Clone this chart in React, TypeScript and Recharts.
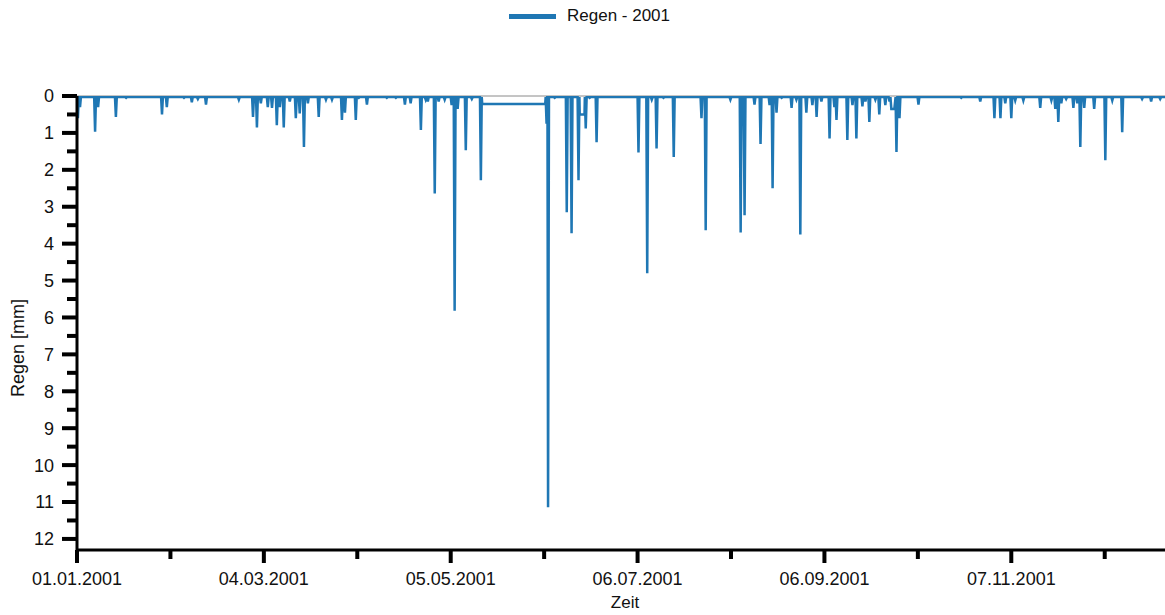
import React from "react";
import {
  LineChart,
  Line,
  XAxis,
  YAxis,
  Legend,
  ReferenceLine,
  Label,
} from "recharts";

// rain events: [day of year (0 = 01.01.2001), rain in mm]
const winterEvents: [number, number][] = [
  [0.3, 0.6], [1.0, 0.3], [6.0, 0.97], [7.0, 0.3], [12.9, 0.57], [16.3, 0.05],
  [28.2, 0.5], [29.8, 0.3], [35.5, 0.05], [38.1, 0.17], [40.1, 0.08], [42.8, 0.23],
  [53.7, 0.1], [58.4, 0.57],
];

const springEvents: [number, number][] = [
  [59.7, 0.85], [61.0, 0.2], [63.3, 0.3], [64.7, 0.32], [66.3, 0.79], [67.3, 0.3],
  [68.6, 0.85], [70.6, 0.15], [72.6, 0.6], [73.9, 0.47], [75.3, 1.38], [76.6, 0.2],
  [80.2, 0.57], [82.6, 0.1], [84.6, 0.1], [87.9, 0.65], [88.9, 0.45], [92.5, 0.65],
  [93.5, 0.05], [96.2, 0.23], [102.8, 0.05], [105.8, 0.05], [108.8, 0.23], [110.7, 0.2],
  [114.1, 0.92], [115.7, 0.1], [116.4, 0.15], [118.7, 2.64], [120.0, 0.15], [122.0, 0.1],
  [124.3, 0.25], [125.3, 5.82], [126.3, 0.35], [129.0, 1.47], [131.0, 0.08], [134.0, 2.28],
];

const summerEvents: [number, number][] = [
  [155.8, 0.75], [156.3, 11.14], [158.5, 0.05], [162.5, 3.15], [164.1, 3.72], [166.4, 2.28],
  [168.8, 0.88], [170.1, 0.05], [172.4, 1.25], [186.3, 1.53], [189.2, 4.8], [190.7, 0.1],
  [192.3, 1.42], [194.6, 0.05], [198.0, 1.65], [207.2, 0.6], [208.6, 3.64], [216.8, 0.1],
  [220.2, 3.7], [221.5, 3.23], [224.8, 0.23], [226.8, 1.3], [229.8, 0.25], [230.8, 2.5],
  [232.1, 0.45], [233.8, 0.05], [237.1, 0.32], [238.7, 0.1], [240.0, 3.75],
];

const autumnEvents: [number, number][] = [
  [242.0, 0.45], [244.0, 0.25], [245.4, 0.57], [247.0, 0.15], [249.7, 1.15], [251.3, 0.3],
  [252.0, 0.65], [255.6, 1.19], [257.3, 0.25], [258.6, 1.15], [260.6, 0.28], [261.6, 0.15],
  [262.9, 0.7], [264.9, 0.1], [266.2, 0.5], [268.2, 0.25], [269.6, 0.15], [271.9, 1.52],
  [272.9, 0.6], [279.2, 0.23], [293.4, 0.05], [299.7, 0.15], [304.4, 0.6], [306.4, 0.6],
  [308.0, 0.2], [310.0, 0.6], [311.3, 0.12], [314.0, 0.12], [319.6, 0.32], [323.3, 0.12],
  [324.6, 0.35], [325.6, 0.7], [326.6, 0.2], [328.2, 0.08], [330.6, 0.32], [331.9, 0.2],
  [332.9, 1.38], [334.2, 0.32], [337.5, 0.35], [341.2, 1.74], [343.5, 0.12], [346.8, 0.98],
  [353.4, 0.08], [356.4, 0.15], [359.4, 0.08],
];

// flat stretches (gaps in the record): [from day, to day, mm]
const plateaus: [number, number, number][] = [
  [134.45, 155.35, 0.22],
  [166.8, 168.4, 0.5],
  [270.2, 271.2, 0.35],
];

const xTicks = [0, 31, 62, 93, 124, 155, 186, 217, 248, 279, 310, 341];
const yTicks = [0, 0.5, 1, 1.5, 2, 2.5, 3, 3.5, 4, 4.5, 5, 5.5, 6, 6.5, 7, 7.5, 8, 8.5, 9, 9.5, 10, 10.5, 11, 11.5, 12];

const BLUE = "#1f77b4";
const FONT = '"Liberation Sans", Arial, sans-serif';
const TEXT = "#111";
const BASE = 0.03;
const HALF = 0.3;

function buildSeries() {
  const pts: { t: number; v: number }[] = [{ t: 0, v: BASE }, { t: 361, v: BASE }];
  [...winterEvents, ...springEvents, ...summerEvents, ...autumnEvents].forEach(([d, mm]) => {
    pts.push({ t: d - HALF, v: BASE }, { t: d, v: mm }, { t: d + HALF, v: BASE });
  });
  plateaus.forEach(([a, b, lvl]) => {
    pts.push({ t: a, v: lvl }, { t: b, v: lvl });
  });
  return pts.sort((p, q) => p.t - q.t);
}

const series = buildSeries();

function dayLabel(day: number) {
  const d = new Date(2001, 0, 1 + day);
  const p = (n: number) => String(n).padStart(2, "0");
  return `${p(d.getDate())}.${p(d.getMonth() + 1)}.${d.getFullYear()}`;
}

const XTick = (props: any) => {
  const { x, y, index, payload } = props;
  const major = index % 2 === 0;
  return (
    <g>
      <line x1={x} x2={x} y1={y} y2={y + (major ? 13 : 9)} stroke="#000" strokeWidth={4} />
      {major && (
        <text x={x} y={y + 35} textAnchor="middle" fontSize={18} fontFamily={FONT} fill={TEXT}>
          {dayLabel(payload.value)}
        </text>
      )}
    </g>
  );
};

const YTick = (props: any) => {
  const { x, y, payload } = props;
  const major = Number.isInteger(payload.value);
  return (
    <g>
      <line x1={x} x2={x - (major ? 15 : 10)} y1={y} y2={y} stroke="#000" strokeWidth={4} />
      {major && (
        <text x={x - 23} y={y} dy="0.36em" textAnchor="end" fontSize={18} fontFamily={FONT} fill={TEXT}>
          {payload.value}
        </text>
      )}
    </g>
  );
};

const LegendContent = () => (
  <div
    style={{
      display: "flex",
      justifyContent: "center",
      alignItems: "center",
      height: 32,
      paddingLeft: 14,
      fontFamily: FONT,
      fontSize: 17,
      color: TEXT,
    }}
  >
    <span style={{ display: "inline-block", width: 47, height: 5, background: BLUE, marginRight: 11 }} />
    <span>Regen - 2001</span>
  </div>
);

export default function App() {
  return (
    <div style={{ position: "absolute", left: 0, top: 0, background: "#fff" }}>
      <LineChart width={1165} height={615} data={series} margin={{ top: 96, right: 0, bottom: 0, left: 0 }}>
        <Legend
          verticalAlign="middle"
          align="center"
          layout="horizontal"
          wrapperStyle={{ top: 0, left: 0, width: 1165 }}
          content={<LegendContent />}
        />
        <XAxis
          type="number"
          dataKey="t"
          domain={[0, 361]}
          ticks={xTicks}
          interval={0}
          height={65}
          tickSize={0}
          tickMargin={0}
          tickLine={false}
          axisLine={{ stroke: "#000", strokeWidth: 3 }}
          tick={<XTick />}
          allowDataOverflow
        >
          <Label
            content={(p: any) => (
              <text
                x={p.viewBox.x + p.viewBox.width / 2 + 4}
                y={p.viewBox.y + 58}
                textAnchor="middle"
                fontSize={17}
                fontFamily={FONT}
                fill={TEXT}
              >
                Zeit
              </text>
            )}
          />
        </XAxis>
        <YAxis
          type="number"
          domain={[0, 12.3]}
          reversed
          ticks={yTicks}
          interval={0}
          width={77}
          tickSize={0}
          tickMargin={0}
          tickLine={false}
          axisLine={{ stroke: "#000", strokeWidth: 3 }}
          tick={<YTick />}
          allowDataOverflow
        >
          <Label
            content={(p: any) => {
              const cx = 18;
              const cy = p.viewBox.y + p.viewBox.height / 2 + 25;
              return (
                <text
                  x={cx}
                  y={cy}
                  transform={`rotate(-90 ${cx} ${cy})`}
                  textAnchor="middle"
                  dominantBaseline="central"
                  fontSize={18}
                  fontFamily={FONT}
                  fill={TEXT}
                >
                  Regen [mm]
                </text>
              );
            }}
          />
        </YAxis>
        <ReferenceLine y={0} stroke="#8a8a8a" strokeWidth={1} />
        <Line
          type="linear"
          dataKey="v"
          stroke={BLUE}
          strokeWidth={2.5}
          dot={false}
          activeDot={false}
          isAnimationActive={false}
          legendType="none"
        />
      </LineChart>
    </div>
  );
}
